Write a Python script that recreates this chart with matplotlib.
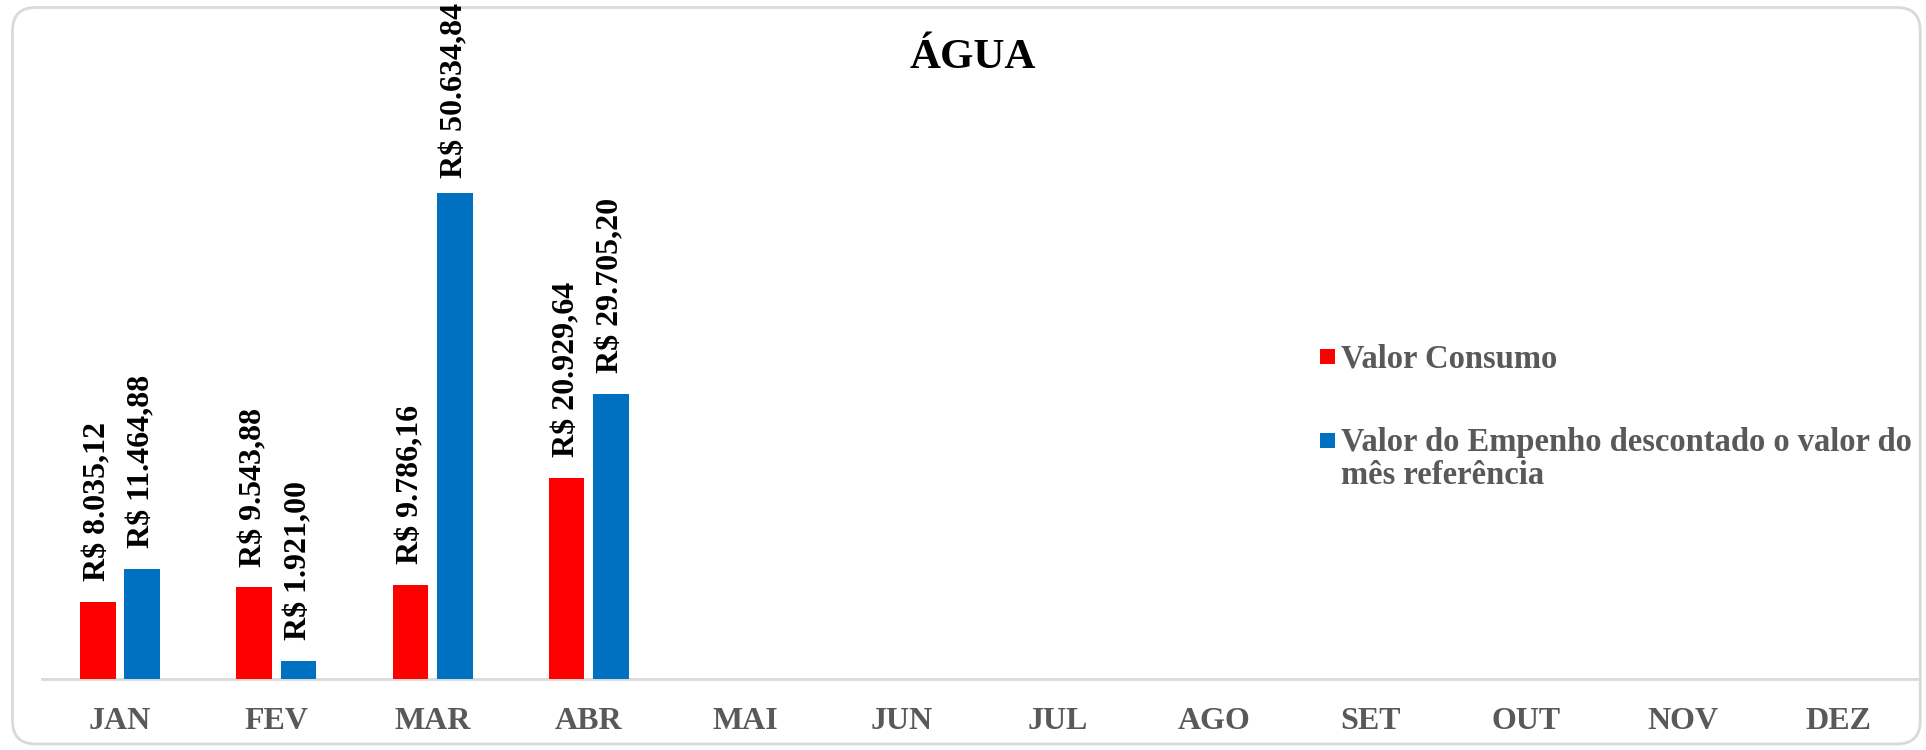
import numpy as np
import matplotlib
matplotlib.use("Agg")
import matplotlib.pyplot as plt
from matplotlib.patches import FancyBboxPatch, Rectangle

# === DATA ===
months = ["JAN", "FEV", "MAR", "ABR", "MAI", "JUN", "JUL", "AGO", "SET", "OUT", "NOV", "DEZ"]
valor_consumo = [8035.12, 9543.88, 9786.16, 20929.64]
valor_empenho = [11464.88, 1921.00, 50634.84, 29705.20]
series_names = ["Valor Consumo", "Valor do Empenho descontado o valor do\nmês referência"]

RED = "#FF0000"
BLUE = "#0070C0"
GRAY = "#595959"

plt.rcParams["font.family"] = ["Liberation Serif", "DejaVu Serif"]
plt.rcParams["font.weight"] = "bold"


def brl(v):
    # 8035.12 -> "R$ 8.035,12"
    s = f"{v:,.2f}".replace(",", "X").replace(".", ",").replace("X", ".")
    return "R$ " + s


fig = plt.figure(figsize=(19.26, 7.5), dpi=100)
ax = fig.add_axes([0.0218, 0.0947, 0.9735, 0.825])

# rounded chart frame
frame = FancyBboxPatch((0.0065, 0.008), 0.9905, 0.982, boxstyle="round,pad=0,rounding_size=0.012",
                       transform=fig.transFigure, facecolor="white", edgecolor="#D9D9D9",
                       linewidth=2, zorder=-10, mutation_aspect=1926 / 750)
fig.patches.append(frame)

width = 0.228
offset = 0.142
x = np.arange(len(valor_consumo))
b1 = ax.bar(x - offset, valor_consumo, width, color=RED, zorder=3)
b2 = ax.bar(x + offset, valor_empenho, width, color=BLUE, zorder=3)

labels = []
for bars, vals in ((b1, valor_consumo), (b2, valor_empenho)):
    for rect, v in zip(bars, vals):
        t = ax.annotate(brl(v), (rect.get_x() + rect.get_width() / 2, rect.get_height()),
                        xytext=(0, 15), textcoords="offset points", rotation=90,
                        ha="center", va="bottom", fontsize=23, fontweight="bold",
                        color="black", annotation_clip=False)
        labels.append(t)

ax.set_xlim(-0.5, len(months) - 0.5)
ax.set_ylim(0, 64500)
ax.set_xticks(range(len(months)))
ax.set_xticklabels(months, fontsize=23, fontweight="bold", color=GRAY)
ax.tick_params(axis="x", length=0, pad=20)
ax.set_yticks([])
for side in ("top", "right", "left"):
    ax.spines[side].set_visible(False)
ax.spines["bottom"].set_color("#D9D9D9")
ax.spines["bottom"].set_linewidth(2)
ax.patch.set_alpha(0)

fig.text(0.505, 0.922, "ÁGUA", ha="center", va="center", fontsize=31, fontweight="bold", color="black")

# legend: square key lined up with the first line of each label
sq_w, sq_h = 0.008, 0.0242
line_step = 0.0533
for name, color, y_base in zip(series_names, (RED, BLUE), (0.504, 0.368)):
    ax.add_patch(Rectangle((0.6816, y_base + 0.0178 - sq_h / 2), sq_w, sq_h,
                           transform=ax.transAxes, facecolor=color, clip_on=False))
    for i, line in enumerate(name.split("\n")):
        ax.text(0.6928, y_base - i * line_step, line, transform=ax.transAxes,
                ha="left", va="baseline", fontsize=23.5, fontweight="bold", color=GRAY)

# keep data labels inside the figure: push down any label running past the top
fig.canvas.draw()
renderer = fig.canvas.get_renderer()
top_px = fig.bbox.height - 3
for t in labels:
    bb = t.get_window_extent(renderer)
    if bb.y1 > top_px:
        over = (bb.y1 - top_px) * 72 / fig.dpi
        t.xyann = (0, 15 - over)

fig.savefig("out.png", dpi=100)
